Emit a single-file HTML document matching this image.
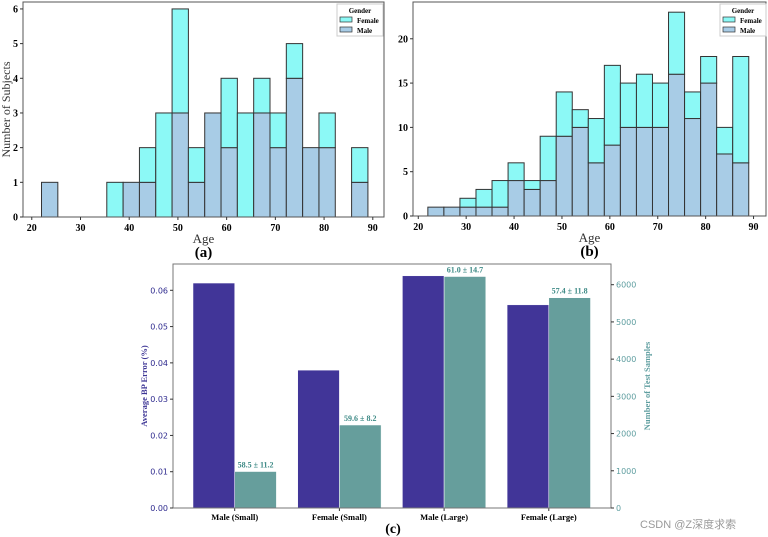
<!DOCTYPE html>
<html><head><meta charset="utf-8"><style>
html,body{margin:0;padding:0;background:#fff;width:768px;height:537px;overflow:hidden}
svg{display:block}
.serif{font-family:"Liberation Serif",serif}
.sans{font-family:"DejaVu Sans","Liberation Sans",sans-serif}
</style></head><body>
<svg id="fig" width="768" height="537" viewBox="0 0 768 537" xmlns="http://www.w3.org/2000/svg"></svg>
<script>
// ---- data ----
const binStart = 22, binWidth = 3.35;
const aMale   = [1,0,0,0,0,1,1,0,3,1,3,2,0,3,2,4,2,2,0,1];
const aFemale = [0,0,0,0,1,0,1,3,3,1,0,2,3,1,1,1,0,1,0,1];
const bMale   = [1,1,1,1,1,4,3,4,9,10,6,8,10,10,10,16,11,15,7,6];
const bFemale = [0,0,1,2,3,2,1,5,5,2,5,9,5,6,5,7,3,3,3,12];
const ageTicks = [20,30,40,50,60,70,80,90];
const aYTicks = [0,1,2,3,4,5,6];
const bYTicks = [0,5,10,15,20];
const cCategories = ["Male (Small)","Female (Small)","Male (Large)","Female (Large)"];
const cError = [0.062,0.038,0.064,0.056];
const cSamples = [980,2230,6220,5650];
const cAgeLabels = ["58.5 ± 11.2","59.6 ± 8.2","61.0 ± 14.7","57.4 ± 11.8"];
const cLeftTicks = [0,0.01,0.02,0.03,0.04,0.05,0.06];
const cRightTicks = [0,1000,2000,3000,4000,5000,6000];

const NS="http://www.w3.org/2000/svg";
const svg=document.getElementById('fig');
function mk(tag,attrs,parent,text){const e=document.createElementNS(NS,tag);for(const k in attrs)e.setAttribute(k,attrs[k]);if(text!==undefined)e.textContent=text;(parent||svg).appendChild(e);return e;}

function hist(opts){
  const {x0,x1,y0,y1,xmin,xmax,ymax,male,female,yTicks,prefix,ylabel,letter,legendX}=opts;
  const g=mk('g',{});
  
  
  const sx=v=>x0+(v-xmin)/(xmax-xmin)*(x1-x0);
  const sy=v=>y1-v/ymax*(y1-y0);
  for(let i=0;i<male.length;i++){
    const a=binStart+i*binWidth,b=a+binWidth;
    if(male[i]>0){const r=mk('rect',{x:sx(a),y:sy(male[i]),width:sx(b)-sx(a),height:sy(0)-sy(male[i]),fill:'#a8cce6',stroke:'#333','stroke-width':1},g);
      
      }
    if(female[i]>0){const t=male[i]+female[i];const r=mk('rect',{x:sx(a),y:sy(t),width:sx(b)-sx(a),height:sy(male[i])-sy(t),fill:'#8cf9f6',stroke:'#333','stroke-width':1},g);
      
      }
  }
  mk('rect',{x:x0,y:y0,width:x1-x0,height:y1-y0,fill:'none',stroke:'#555','stroke-width':1},g);
  ageTicks.forEach(t=>{const x=sx(t);mk('line',{x1:x,x2:x,y1:y1,y2:y1+3,stroke:'#333'},g);
    const tx=mk('text',{x:x,y:y1+14,'text-anchor':'middle','font-size':10,'font-weight':'bold',class:'serif'},g,t);
    
    });
  yTicks.forEach(t=>{const y=sy(t);mk('line',{x1:x0-3,x2:x0,y1:y,y2:y,stroke:'#333'},g);
    const tx=mk('text',{x:x0-5,y:y+3.5,'text-anchor':'end','font-size':10,'font-weight':'bold',class:'serif'},g,t);
    
    });
  const xl=mk('text',{x:(x0+x1)/2,y:y1+26,'text-anchor':'middle','font-size':13,fill:'#333',class:'serif'},g,'Age');
  
  
  const lt=mk('text',{x:(x0+x1)/2,y:y1+40,'text-anchor':'middle','font-size':15,'font-weight':'bold',class:'serif'},g,letter);
  
  
  if(ylabel){const yl=mk('text',{transform:`translate(10,${(y0+y1)/2}) rotate(-90)`,'text-anchor':'middle','font-size':12,fill:'#333',class:'serif'},g,ylabel);
    
    }
  const lg=mk('g',{},g);
  
  
  mk('rect',{x:legendX,y:y0+2,width:46,height:32,fill:'#fff',stroke:'#ccc'},lg);
  mk('text',{x:legendX+23,y:y0+11,'text-anchor':'middle','font-size':7,'font-weight':'bold',class:'serif'},lg,'Gender');
  mk('rect',{x:legendX+3,y:y0+15,width:12,height:5,fill:'#8cf9f6',stroke:'#333','stroke-width':0.7},lg);
  mk('text',{x:legendX+20,y:y0+21,'font-size':7,'font-weight':'bold',class:'serif'},lg,'Female');
  mk('rect',{x:legendX+3,y:y0+25,width:12,height:5,fill:'#a8cce6',stroke:'#333','stroke-width':0.7},lg);
  mk('text',{x:legendX+20,y:y0+31,'font-size':7,'font-weight':'bold',class:'serif'},lg,'Male');
}
hist({x0:23,x1:384,y0:2,y1:217,xmin:18.2,xmax:92.3,ymax:6.2,male:aMale,female:aFemale,yTicks:aYTicks,prefix:'a',ylabel:'Number of Subjects',letter:'(a)',legendX:337});
hist({x0:413,x1:766,y0:2,y1:216,xmin:18.9,xmax:92.6,ymax:24.15,male:bMale,female:bFemale,yTicks:bYTicks,prefix:'b',ylabel:null,letter:'(b)',legendX:720});

// ---- chart c ----
(function(){
  const x0=173,x1=611,y0=264,y1=508;
  const g=mk('g',{});
  
  
  const syL=v=>y1-v/0.06*(y1-290.3);
  const syR=v=>y1-v/6000*(y1-284.7);
  const cx=i=>234.7+i*104.7;
  const bw=41.7;
  cCategories.forEach((c,i)=>{
    const r1=mk('rect',{x:cx(i)-bw,y:syL(cError[i]),width:bw,height:y1-syL(cError[i]),fill:'#413598',stroke:'#fff','stroke-width':0.5},g);
    
    
    const r2=mk('rect',{x:cx(i),y:syR(cSamples[i]),width:bw,height:y1-syR(cSamples[i]),fill:'#669e9c',stroke:'#fff','stroke-width':0.5},g);
    
    
    const al=mk('text',{x:cx(i)+bw/2,y:syR(cSamples[i])-4,'text-anchor':'middle','font-size':8,'font-weight':'bold',fill:'#3e8a86',class:'serif'},g,cAgeLabels[i]);
    
    
    mk('line',{x1:cx(i),x2:cx(i),y1:y1,y2:y1+3,stroke:'#333'},g);
    const cl=mk('text',{x:cx(i),y:y1+12,'text-anchor':'middle','font-size':8.5,'font-weight':'bold',class:'serif'},g,c);
    
    
  });
  mk('rect',{x:x0,y:y0,width:x1-x0,height:y1-y0,fill:'none',stroke:'#777','stroke-width':1},g);
  cLeftTicks.forEach(t=>{const y=syL(t);mk('line',{x1:x0-3,x2:x0,y1:y,y2:y,stroke:'#333'},g);
    const tx=mk('text',{x:x0-5,y:y+3,'text-anchor':'end','font-size':8,fill:'#2e2a8e',class:'sans'},g,t.toFixed(2));
    
    });
  cRightTicks.forEach(t=>{const y=syR(t);mk('line',{x1:x1,x2:x1+3,y1:y,y2:y,stroke:'#333'},g);
    const tx=mk('text',{x:x1+5,y:y+3,'font-size':8,fill:'#5f9ea0',class:'sans'},g,t);
    
    });
  const ly=mk('text',{transform:`translate(147,${(y0+y1)/2}) rotate(-90)`,'text-anchor':'middle','font-size':8.5,'font-weight':'bold',fill:'#3d3595',class:'serif'},g,'Average BP Error (%)');
  
  
  const ry=mk('text',{transform:`translate(650,${(y0+y1)/2}) rotate(-90)`,'text-anchor':'middle','font-size':8.5,'font-weight':'bold',fill:'#5f9ea0',class:'serif'},g,'Number of Test Samples');
  
  
  const lt=mk('text',{x:393,y:533,'text-anchor':'middle','font-size':14,'font-weight':'bold',class:'serif'},g,'(c)');
  
  
  const wm=mk('text',{x:640,y:528,'font-size':11,fill:'#999',style:'font-family:"Liberation Sans","Noto Sans CJK SC",sans-serif'},svg,'CSDN @Z深度求索');
  
  
})();
</script>
</body></html>
